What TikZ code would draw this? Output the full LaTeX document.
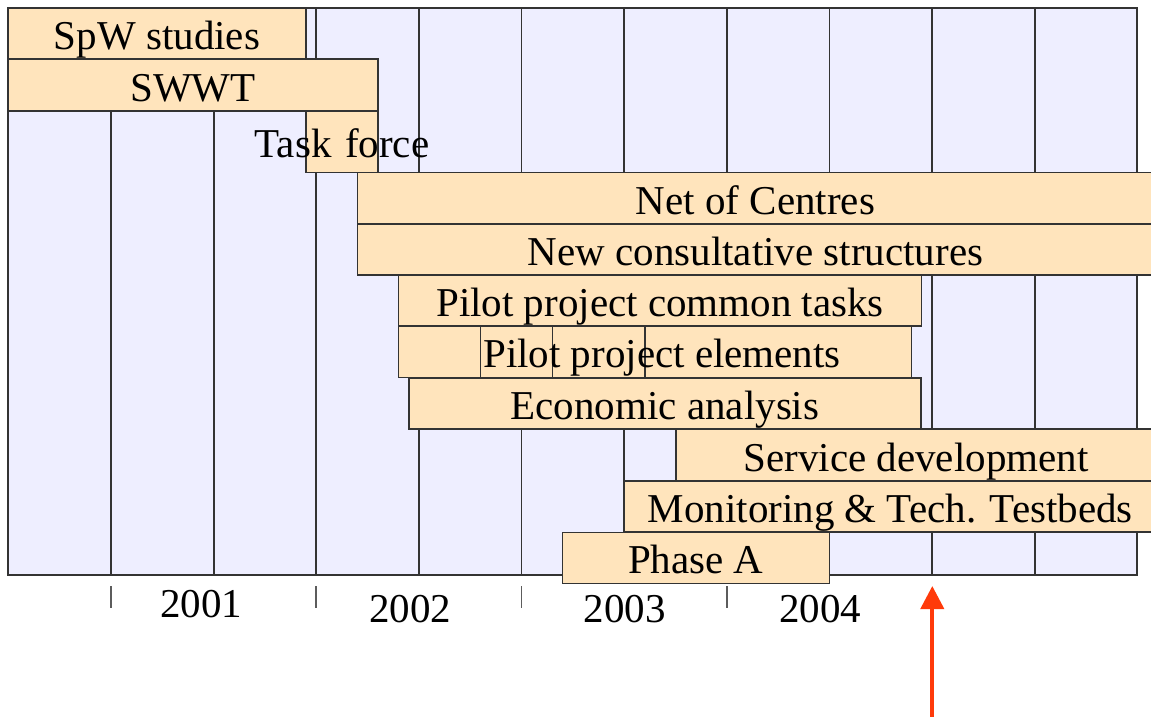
\documentclass[tikz,border=0pt]{standalone}
\usepackage{fontspec}
\setmainfont{Liberation Serif}
\usetikzlibrary{arrows.meta}
\definecolor{chartbg}{HTML}{EEEEFF}
\definecolor{barfill}{HTML}{FFE4BC}
\definecolor{arrowred}{HTML}{FF3A0A}
\definecolor{edgecol}{HTML}{333333}
\tikzset{
  bar/.style={draw=edgecol, fill=barfill, line width=1.3pt, inner sep=0pt, outer sep=0pt,
    anchor=north west, text height=38pt, text depth=6pt,
    font=\fontsize{41}{49}\selectfont},
  gridline/.style={draw=edgecol, line width=1.3pt},
  tickline/.style={draw=edgecol!80, line width=1.1pt},
  yearlabel/.style={font=\fontsize{41}{49}\selectfont, inner sep=0pt, anchor=base},
}
\begin{document}
\begin{tikzpicture}[x=1pt,y=-1pt]
\useasboundingbox (0,0) rectangle (1151,717);
\clip (0,0) rectangle (1151,717);
% chart background and grid
\fill[white] (0,0) rectangle (1151,717);
\filldraw[fill=chartbg, gridline] (8,8) rectangle (1137,575);
\foreach \x in {111,214,316,419,521.5,624,727,829.5,932,1035}
  \draw[gridline] (\x,8) -- (\x,575);
% bars
\node[bar, minimum width=298pt, minimum height=51pt] (spw) at (8,8) {SpW studies};
\node[bar, minimum width=370pt, minimum height=52pt] (swwt) at (8,59) {SWWT};
\node[bar, minimum width=72pt, minimum height=61.5pt, text width=72pt, align=center] (tf) at (306,111) {\makebox[0pt]{Task force}};
\node[bar, minimum width=800pt, minimum height=51.5pt] (noc) at (357.5,172.5) {\hspace*{-4pt}Net of Centres};
\node[bar, minimum width=800pt, minimum height=51pt] (ncs) at (357.5,224) {\hspace*{-4pt}New consultative structures};
\node[bar, minimum width=523pt, minimum height=51pt] (ppct) at (398.5,275) {Pilot project common tasks};
\node[bar, minimum width=513pt, minimum height=51.5pt] (ppe) at (398.5,326) {};
\draw[gridline] (480.7,0 |- ppe.north) -- (480.7,0 |- ppe.south);
\draw[gridline] (552.3,0 |- ppe.north) -- (552.3,0 |- ppe.south);
\draw[gridline] (645,0 |- ppe.north) -- (645,0 |- ppe.south);
\node[font=\fontsize{41}{49}\selectfont, inner sep=0pt, text height=38pt, text depth=6pt] (ppetext) at ([xshift=7pt]ppe.center) {Pilot project elements};
\node[bar, minimum width=512pt, minimum height=51pt] (ea) at (409,378) {Economic analysis};
\node[bar, minimum width=480pt, minimum height=52pt] (sd) at (676,429) {Service development};
\node[bar, minimum width=532pt, minimum height=51pt] (mtt) at (624.3,481) {Monitoring \& Tech. Testbeds};
\node[bar, minimum width=267pt, minimum height=51pt] (pha) at (562.3,532.3) {Phase A};
% axis ticks and years
\foreach \x/\n in {111/ta,316/tb,521.5/tc,727/td}{
  \coordinate (\n top) at (\x,586);
  \coordinate (\n bot) at (\x,608);
  \draw[tickline] (\n top) -- (\n bot);
}
\node[yearlabel] (y2001) at (201,617) {2001};
\node[yearlabel] (y2002) at (410,622) {2002};
\node[yearlabel] (y2003) at (624.5,622) {2003};
\node[yearlabel] (y2004) at (820,622) {2004};
% red arrow
\coordinate (arrowtail) at (932.3,720);
\coordinate (arrowtip) at (932.3,586);
\draw[arrowred, line width=4pt, -{Triangle[length=23pt,width=23pt]}] (arrowtail) -- (arrowtip);
\end{tikzpicture}
\end{document}
